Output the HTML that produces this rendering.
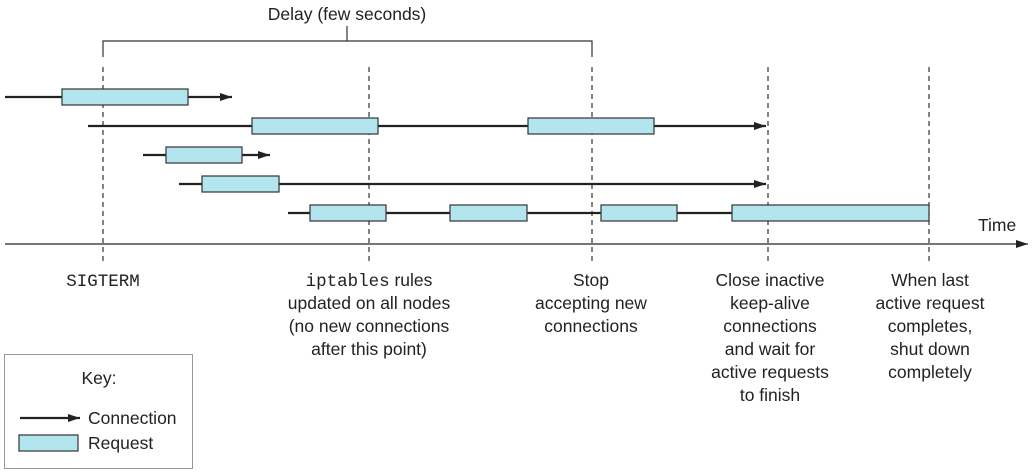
<!DOCTYPE html>
<html><head><style>body{margin:0;background:#fff}svg{display:block}text{font-family:"Liberation Sans",Arial,sans-serif;font-size:17.5px;fill:#222}.m{font-family:"Liberation Mono",monospace;font-size:17.5px}</style></head><body>
<svg width="1033" height="472" viewBox="0 0 1033 472">
<defs><marker id="a" markerWidth="12" markerHeight="8" refX="12" refY="4" orient="auto" markerUnits="userSpaceOnUse"><path d="M0,0L12,4L0,8z" fill="#222"/></marker></defs>
<text x="347" y="20" text-anchor="middle">Delay (few seconds)</text>
<path d="M103,57V41H592V57M347,41V26" fill="none" stroke="#333" stroke-width="1.2"/>
<g stroke="#333" stroke-width="1.2" stroke-dasharray="5,4">
<line x1="103" y1="67" x2="103" y2="262"/><line x1="369" y1="67" x2="369" y2="262"/><line x1="592" y1="67" x2="592" y2="262"/><line x1="768" y1="67" x2="768" y2="262"/><line x1="929" y1="67" x2="929" y2="262"/></g>
<g stroke="#222" stroke-width="2.2" fill="none">
<line x1="5" y1="97" x2="232" y2="97" marker-end="url(#a)"/>
<line x1="88" y1="126" x2="766" y2="126" marker-end="url(#a)"/>
<line x1="143" y1="155" x2="270" y2="155" marker-end="url(#a)"/>
<line x1="179" y1="184" x2="766" y2="184" marker-end="url(#a)"/>
<line x1="288" y1="213" x2="929" y2="213"/>
<line x1="5" y1="244" x2="1028" y2="244" stroke-width="1.3" marker-end="url(#a)"/>
<line x1="20" y1="418" x2="80" y2="418" marker-end="url(#a)"/>
</g>
<g fill="#b3e5ef" stroke="#333" stroke-width="1.2">
<rect x="62" y="89" width="126" height="16"/>
<rect x="252" y="118" width="126" height="16"/><rect x="528" y="118" width="126" height="16"/>
<rect x="166" y="147" width="76" height="16"/>
<rect x="202" y="176" width="77" height="16"/>
<rect x="310" y="205" width="76" height="16"/><rect x="450" y="205" width="77" height="16"/><rect x="601" y="205" width="76" height="16"/><rect x="732" y="205" width="197" height="16"/>
<rect x="19" y="435" width="59" height="16"/>
</g>
<text x="978" y="231">Time</text>
<text x="103" y="286" text-anchor="middle" class="m">SIGTERM</text>
<g text-anchor="middle">
<text x="369" y="286"><tspan class="m">iptables</tspan> rules</text>
<text x="369" y="309">updated on all nodes</text>
<text x="369" y="332">(no new connections</text>
<text x="369" y="355">after this point)</text>
<text x="591" y="286">Stop</text><text x="591" y="309">accepting new</text><text x="591" y="332">connections</text>
<text x="770" y="286">Close inactive</text><text x="770" y="309">keep-alive</text><text x="770" y="332">connections</text><text x="770" y="355">and wait for</text><text x="770" y="378">active requests</text><text x="770" y="401">to finish</text>
<text x="930" y="286">When last</text><text x="930" y="309">active request</text><text x="930" y="332">completes,</text><text x="930" y="355">shut down</text><text x="930" y="378">completely</text>
</g>
<rect x="4.5" y="354.5" width="188" height="114" fill="none" stroke="#999" stroke-width="1"/>
<text x="99" y="384" text-anchor="middle">Key:</text>
<text x="88" y="424">Connection</text>
<text x="88" y="449">Request</text>
</svg>
</body></html>
